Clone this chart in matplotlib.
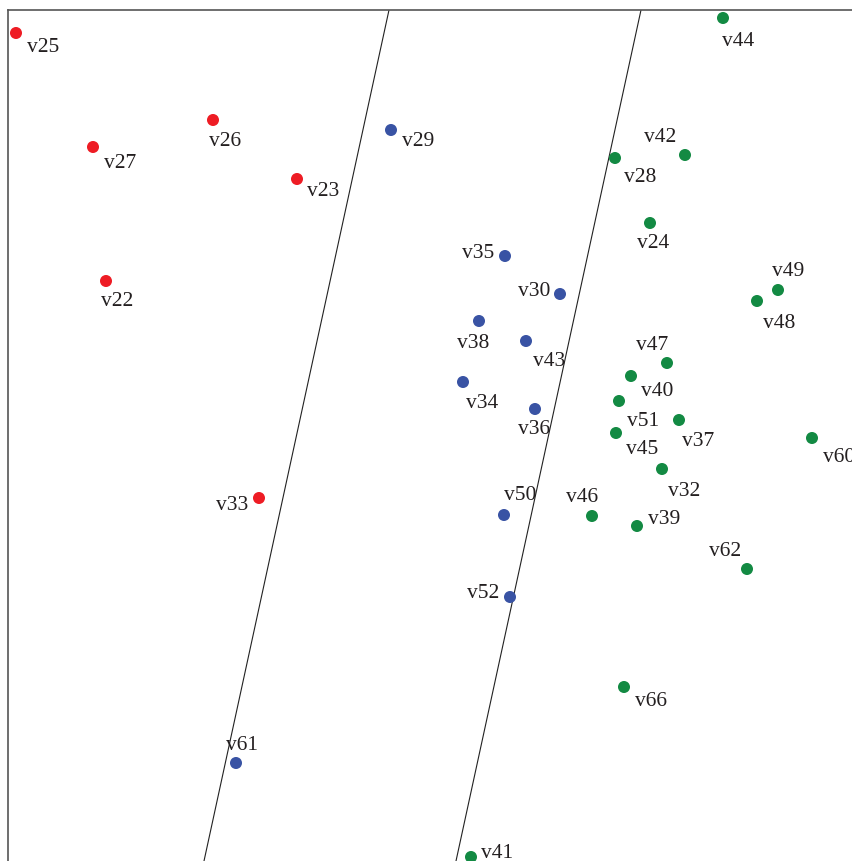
import matplotlib
matplotlib.use("Agg")
import matplotlib.pyplot as plt
from matplotlib.transforms import offset_copy

plt.rcParams['font.family'] = ['Liberation Serif', 'DejaVu Serif']

# Point positions (chart units, y grows downward) and label anchor positions
red_names = ['v25', 'v26', 'v27', 'v23', 'v22', 'v33']
red_x = [16, 213, 93, 297, 106, 259]
red_y = [33, 120, 147, 179, 281, 498]
red_lx = [43, 225, 120, 323, 117, 232]
red_ly = [45, 140, 162, 190, 300, 504]

blue_names = ['v29', 'v35', 'v30', 'v38', 'v43', 'v34', 'v36', 'v50', 'v52', 'v61']
blue_x = [391, 505, 560, 479, 526, 463, 535, 504, 510, 236]
blue_y = [130, 256, 294, 321, 341, 382, 409, 515, 597, 763]
blue_lx = [418, 478, 534, 473, 549, 482, 534, 520, 483, 242]
blue_ly = [139, 252, 290, 341, 359, 402, 428, 494, 592, 743]

green_names = ['v44', 'v42', 'v28', 'v24', 'v49', 'v48', 'v47', 'v40', 'v51',
               'v37', 'v45', 'v60', 'v32', 'v46', 'v39', 'v62', 'v66', 'v41']
green_x = [723, 685, 615, 650, 778, 757, 667, 631, 619,
           679, 616, 812, 662, 592, 637, 747, 624, 471]
green_y = [18, 155, 158, 223, 290, 301, 363, 376, 401,
           420, 433, 438, 469, 516, 526, 569, 687, 857]
green_lx = [738, 660, 640, 653, 788, 779, 652, 657, 643,
            698, 642, 839, 684, 582, 664, 725, 651, 497]
green_ly = [39, 136, 175, 242, 270, 321, 343, 390, 419,
            439, 448, 455, 489, 496, 517, 550, 700, 852]

# Two separating lines: (x at top, x at bottom)
lines_top = [389, 641]
lines_bottom = [204, 456]
y_top, y_bottom = 10, 861

groups = [
    (red_names, red_x, red_y, red_lx, red_ly, '#ee1c24'),
    (blue_names, blue_x, blue_y, blue_lx, blue_ly, '#3953a4'),
    (green_names, green_x, green_y, green_lx, green_ly, '#138a43'),
]

fig = plt.figure(figsize=(8.53, 8.61), dpi=100)
ax = fig.add_axes([8 / 853, 0, 845 / 853, 851 / 861])
ax.set_xlim(8, 853)
ax.set_ylim(861, 10)

for xt, xb in zip(lines_top, lines_bottom):
    ax.plot([xt, xb], [y_top, y_bottom], color='#222222', lw=0.8, zorder=1)

# nudge labels a touch down so they sit like the reference
label_tr = offset_copy(ax.transData, fig=fig, x=0, y=-2, units='dots')

for names, xs, ys, lxs, lys, col in groups:
    ax.scatter(xs, ys, s=75, color=col, edgecolors='none', zorder=3, clip_on=False)
    for n, lx, ly in zip(names, lxs, lys):
        ax.text(lx, ly, n, ha='center', va='center', fontsize=15.5,
                color='#231f20', zorder=4, clip_on=False, transform=label_tr)

# only left and top frame edges are visible
ax.spines['right'].set_visible(False)
ax.spines['bottom'].set_visible(False)
for side in ['left', 'top']:
    ax.spines[side].set_color('#555555')
    ax.spines[side].set_linewidth(1.2)
ax.set_xticks([])
ax.set_yticks([])

fig.savefig('out.png', dpi=100, facecolor='white')
